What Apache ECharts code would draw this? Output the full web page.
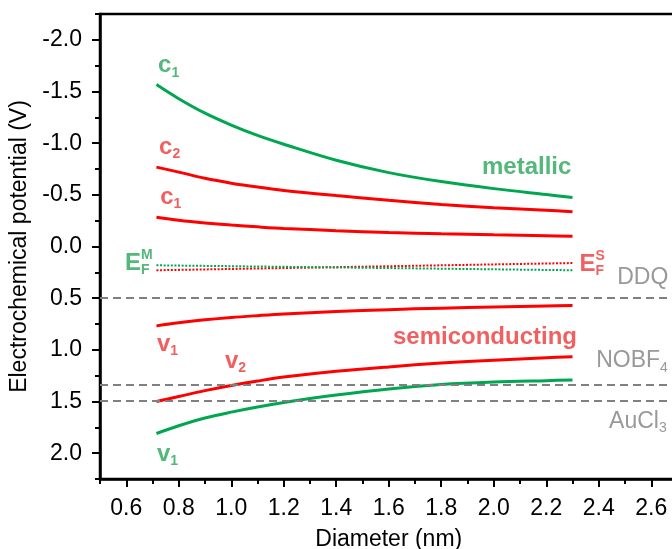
<!DOCTYPE html>
<html>
<head>
<meta charset="utf-8">
<script src="https://cdn.jsdelivr.net/npm/echarts@6/dist/echarts.min.js"></script>
<style>
  html, body { margin: 0; padding: 0; background: #ffffff; }
  #chart { width: 672px; height: 549px; }
</style>
</head>
<body>
<div id="chart"></div>
<script>
// Nanotube diameter (nm) at which each band edge is sampled
const diameters = [0.715, 0.8, 0.9, 1.0, 1.1, 1.2, 1.4, 1.6, 1.8, 2.0, 2.2, 2.3];

// Metallic tubes: first conduction / valence band edges (V)
const metallicC1 = [-1.567, -1.43, -1.29, -1.175, -1.075, -0.99, -0.835, -0.715, -0.628, -0.56, -0.503, -0.475];
const metallicV1 = [1.81, 1.735, 1.66, 1.603, 1.553, 1.51, 1.438, 1.378, 1.336, 1.312, 1.298, 1.292];

// Semiconducting tubes: c2, c1, v1, v2 band edges (V)
const semiC2 = [-0.768, -0.72, -0.66, -0.613, -0.575, -0.543, -0.493, -0.447, -0.407, -0.376, -0.351, -0.337];
const semiC1 = [-0.283, -0.254, -0.228, -0.207, -0.19, -0.175, -0.153, -0.136, -0.123, -0.113, -0.104, -0.1];
const semiV1 = [0.768, 0.738, 0.71, 0.687, 0.669, 0.653, 0.629, 0.611, 0.597, 0.586, 0.576, 0.572];
const semiV2 = [1.5, 1.452, 1.395, 1.345, 1.302, 1.264, 1.208, 1.165, 1.128, 1.1, 1.077, 1.067];

// Fermi levels (end points)
const fermiDiameters = [0.715, 2.305];
const fermiMetallic = [0.182, 0.23];
const fermiSemi = [0.23, 0.16];

// Redox levels of the dopants (V)
const dopantLevels = [0.5, 1.34, 1.49];

// Tick labels
const xTicks = [0.6, 0.8, 1.0, 1.2, 1.4, 1.6, 1.8, 2.0, 2.2, 2.4, 2.6];
const yTicks = [-2.0, -1.5, -1.0, -0.5, 0.0, 0.5, 1.0, 1.5, 2.0];

const GREEN = '#00a650';
const RED = '#ff0000';
const GREEN_TEXT = '#28a658';
const RED_TEXT = '#ee3838';
const GRAY = '#808080';
const FONT = "'Liberation Sans', Arial, sans-serif";

const pairs = (xs, ys) => xs.map((x, i) => [x, ys[i]]);

// Text annotations: anchor = left edge, vertical middle of the text line
const annotations = [
  { x: 0.721, y: -1.75, text: '{m|c}{s|1}', color: GREEN_TEXT },
  { x: 0.725, y: -0.962, text: '{m|c}{s|2}', color: RED_TEXT },
  { x: 0.729, y: -0.476, text: '{m|c}{s|1}', color: RED_TEXT },
  { x: 0.595, y: 0.16, text: '{m|E}{s|F}', color: GREEN_TEXT },
  { x: 0.656, y: 0.087, text: '{p|M}', color: GREEN_TEXT },
  { x: 2.326, y: 0.175, text: '{m|E}{s|F}', color: RED_TEXT },
  { x: 2.387, y: 0.097, text: '{p|S}', color: RED_TEXT },
  { x: 1.955, y: -0.768, text: '{m|metallic}', color: GREEN_TEXT },
  { x: 1.616, y: 0.875, text: '{m|semiconducting}', color: RED_TEXT },
  { x: 0.717, y: 0.948, text: '{m|v}{s|1}', color: RED_TEXT },
  { x: 0.976, y: 1.113, text: '{m|v}{s|2}', color: RED_TEXT },
  { x: 0.717, y: 2.012, text: '{m|v}{s|1}', color: GREEN_TEXT },
  { x: 2.47, y: 0.306, text: '{g|DDQ}', color: GRAY },
  { x: 2.39, y: 1.108, text: '{g|NOBF}{gs|4}', color: GRAY },
  { x: 2.439, y: 1.691, text: '{g|AuCl}{gs|3}', color: GRAY }
];

const richStyles = {
  m: { fontSize: 24, fontWeight: 'bold', fontFamily: FONT, lineHeight: 28 },
  s: { fontSize: 14, fontWeight: 'bold', fontFamily: FONT, lineHeight: 14, verticalAlign: 'bottom' },
  p: { fontSize: 14, fontWeight: 'bold', fontFamily: FONT, lineHeight: 14 },
  g: { fontSize: 23, fontFamily: FONT, lineHeight: 28 },
  gs: { fontSize: 14, fontFamily: FONT, lineHeight: 14, verticalAlign: 'bottom' }
};

const bandLine = (name, ys, color) => ({
  name, type: 'line', data: pairs(diameters, ys),
  smooth: 0.35, showSymbol: false, symbol: 'none',
  lineStyle: { color, width: 3 }, z: 3
});

const fermiLine = (name, ys, color) => ({
  name, type: 'line', data: pairs(fermiDiameters, ys),
  showSymbol: false, symbol: 'none',
  lineStyle: { color, width: 2, type: [2, 1.6] }, z: 3
});

const chart = echarts.init(document.getElementById('chart'), null, { renderer: 'canvas' });

const axisLabelFmt = v => Number(v).toFixed(1);

chart.setOption({
  animation: false,
  backgroundColor: '#ffffff',
  textStyle: { fontFamily: FONT },
  grid: {
    left: 100, top: 14, width: 577.5, height: 465,
    containLabel: false, outerBoundsMode: 'none',
    show: true, borderColor: '#000', borderWidth: 2.5, backgroundColor: 'transparent'
  },
  xAxis: [
    {
      type: 'value', position: 'bottom', min: 0.5, max: 2.7, interval: 0.1,
      axisLine: { show: true, onZero: false, lineStyle: { color: '#000', width: 2.5 } },
      axisTick: { show: true, customValues: xTicks, length: 8, lineStyle: { color: '#000', width: 2 } },
      axisLabel: { customValues: xTicks, formatter: axisLabelFmt, fontSize: 23, color: '#000', margin: 18, fontFamily: FONT },
      splitLine: { show: false },
      name: 'Diameter (nm)', nameLocation: 'middle', nameGap: 49,
      nameTextStyle: { fontSize: 23, color: '#000', fontFamily: FONT }
    },
    {
      type: 'value', position: 'bottom', min: 0.5, max: 2.7, interval: 0.1,
      axisLine: { show: false, onZero: false },
      axisTick: { show: true, length: 5, lineStyle: { color: '#000', width: 2 } },
      axisLabel: { show: false },
      splitLine: { show: false }
    }
  ],
  yAxis: [
    {
      type: 'value', position: 'left', inverse: true, min: -2.25, max: 2.25, interval: 0.25,
      axisLine: { show: true, onZero: false, lineStyle: { color: '#000', width: 2.5 } },
      axisTick: { show: true, customValues: yTicks, length: 8, lineStyle: { color: '#000', width: 2 } },
      axisLabel: { customValues: yTicks, formatter: axisLabelFmt, fontSize: 23, color: '#000', margin: 18, fontFamily: FONT },
      splitLine: { show: false },
      name: 'Electrochemical potential (V)', nameLocation: 'middle', nameGap: 68,
      nameTextStyle: { fontSize: 23, color: '#000', fontFamily: FONT }
    },
    {
      type: 'value', position: 'left', inverse: true, min: -2.25, max: 2.25, interval: 0.25,
      axisLine: { show: false, onZero: false },
      axisTick: { show: true, length: 5, lineStyle: { color: '#000', width: 2 } },
      axisLabel: { show: false },
      splitLine: { show: false }
    }
  ],
  series: [
    {
      name: 'dopants', type: 'line', data: [], silent: true, z: 1,
      markLine: {
        silent: true, symbol: ['none', 'none'], label: { show: false }, animation: false,
        lineStyle: { color: GRAY, width: 2, type: [8, 5] },
        data: dopantLevels.map(v => ({ yAxis: v }))
      }
    },
    fermiLine('E_F semiconducting', fermiSemi, RED),
    fermiLine('E_F metallic', fermiMetallic, GREEN),
    bandLine('metallic c1', metallicC1, GREEN),
    bandLine('metallic v1', metallicV1, GREEN),
    bandLine('semiconducting c2', semiC2, RED),
    bandLine('semiconducting c1', semiC1, RED),
    bandLine('semiconducting v1', semiV1, RED),
    bandLine('semiconducting v2', semiV2, RED),
    {
      name: 'labels', type: 'scatter', symbolSize: 0.1, silent: true, z: 5,
      itemStyle: { color: 'rgba(0,0,0,0)' },
      data: annotations.map(a => ({
        value: [a.x, a.y],
        label: {
          show: true, position: 'right', distance: 0,
          formatter: a.text, color: a.color,
          rich: Object.fromEntries(Object.entries(richStyles).map(([k, s]) => [k, Object.assign({ color: a.color }, s)]))
        }
      }))
    }
  ]
});
</script>
</body>
</html>
